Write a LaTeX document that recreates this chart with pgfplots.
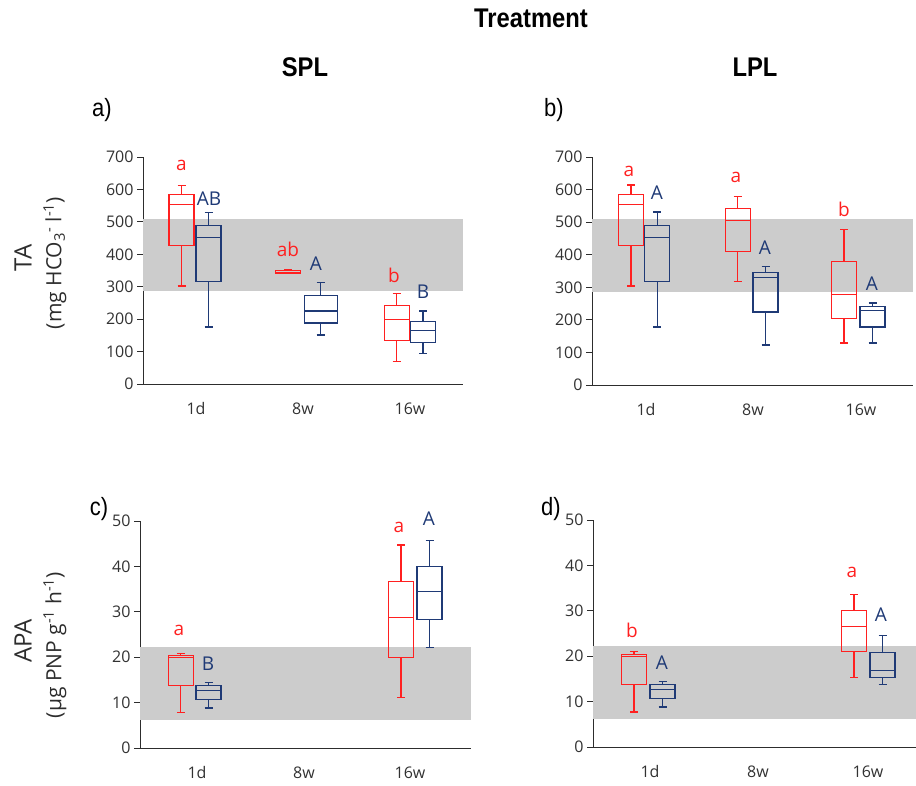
\documentclass[border=0pt]{standalone}
\usepackage{fontspec}
\setmainfont{Open Sans}
\newfontfamily\titlefont[FakeStretch=0.88]{Liberation Sans}
\usepackage{pgfplots}
\pgfplotsset{compat=1.18}
\usepgfplotslibrary{statistics}
\definecolor{redc}{RGB}{255,32,32}
\definecolor{bluec}{RGB}{31,58,118}
\definecolor{bandc}{RGB}{204,204,204}
\definecolor{axisc}{RGB}{45,45,45}
\definecolor{tickc}{RGB}{50,50,50}
\newcommand{\tickfont}{\fontsize{16}{19}\selectfont}
\newcommand{\letfont}{\fontsize{19}{22}\selectfont}
\pgfplotsset{
  panel/.style={
    scale only axis, anchor=south west,
    axis lines=left,
    axis line style={-, draw=axisc, line width=0.9pt},
    tick align=outside, major tick length=6pt,
    tick style={draw=axisc, line width=0.9pt},
    x tick style={draw=none},
    enlargelimits=false, clip=false,
    /pgf/number format/assume math mode=true,
    tick label style={font=\tickfont, text=tickc},
    xticklabel style={anchor=base, yshift=-24pt},
    xticklabels={1d,8w,16w},
    boxplot/draw direction=y,
  },
  rbox/.style={draw=redc, line width=1.2pt, solid},
  bbox/.style={draw=bluec, line width=1.2pt, solid},
}
% boxplot helper: #1 = style, #2 = pos, #3 = width, #4..#8 = lw, lq, med, uq, uw
\newcommand{\bx}[8]{\addplot[#1, boxplot prepared={draw direction=y, draw position=#2, box extend=#3, whisker extend=8,
  lower whisker=#4, lower quartile=#5, median=#6, upper quartile=#7, upper whisker=#8}] coordinates {};}
\begin{document}
\begin{tikzpicture}
\path[use as bounding box] (0pt,0pt) rectangle (916pt,-785pt);

% titles
\node[font=\titlefont\bfseries\fontsize{27}{30}\selectfont] at (531pt,-18pt) {Treatment};
\node[font=\titlefont\bfseries\fontsize{27}{30}\selectfont] at (305pt,-67pt) {SPL};
\node[font=\titlefont\bfseries\fontsize{27}{30}\selectfont] at (755pt,-67pt) {LPL};
\node[font=\titlefont\fontsize{25}{28}\selectfont] at (102pt,-110pt) {a)};
\node[font=\titlefont\fontsize{25}{28}\selectfont] at (554pt,-110pt) {b)};
\node[font=\titlefont\fontsize{25}{28}\selectfont] at (99pt,-509pt) {c)};
\node[font=\titlefont\fontsize{25}{28}\selectfont] at (551pt,-509pt) {d)};

% y labels
\node[rotate=90, text=axisc, font=\fontsize{24}{28}\selectfont] at (23pt,-258pt) {TA};
\node[rotate=90, text=axisc, font=\fontsize{21}{24}\selectfont] at (55pt,-263pt) {(mg HCO\textsubscript{3}\textsuperscript{-} l\textsuperscript{-1})};
\node[rotate=90, text=axisc, font=\fontsize{24}{28}\selectfont] at (23pt,-641pt) {APA};
\node[rotate=90, text=axisc, font=\fontsize{21}{24}\selectfont] at (55pt,-645pt) {(µg PNP g\textsuperscript{-1} h\textsuperscript{-1})};

% ---------- panel a ----------
\begin{axis}[panel, at={(143pt,-384pt)}, width=320pt, height=227pt,
  xmin=143, xmax=463, ymin=0, ymax=700, ytick={0,100,...,700},
  xtick={196,303,410}]
\addplot[draw=none, fill=bandc] coordinates {(143,287) (463,287) (463,510) (143,510)} -- cycle;
\bx{rbox}{181.5}{25}{302}{426}{553}{584}{612}
\bx{bbox}{208.5}{25}{176}{315}{451}{488}{529}
\bx{rbox}{288.3}{25}{340}{341}{345}{349}{352}
\bx{bbox}{320.7}{33}{151}{188}{225}{272}{314}
\bx{rbox}{396.7}{25}{70}{134}{200}{241}{280}
\bx{bbox}{423}{25}{94}{129}{166}{193}{225}
\node[text=redc, font=\letfont] at (axis cs:181.5,674) {a};
\node[text=bluec, font=\letfont] at (axis cs:209,572) {AB};
\node[text=redc, font=\letfont] at (axis cs:288,415) {ab};
\node[text=bluec, font=\letfont] at (axis cs:316,370) {A};
\node[text=redc, font=\letfont] at (axis cs:394,336) {b};
\node[text=bluec, font=\letfont] at (axis cs:423,286) {B};
\end{axis}

% ---------- panel b ----------
\begin{axis}[panel, at={(592pt,-385pt)}, width=321pt, height=228pt,
  xmin=592, xmax=913, ymin=0, ymax=700, ytick={0,100,...,700},
  xtick={646,753,861}]
\addplot[draw=none, fill=bandc] coordinates {(592,287) (913,287) (913,510) (592,510)} -- cycle;
\bx{rbox}{631}{25}{304}{428}{555}{586}{614}
\bx{bbox}{657.3}{25}{178}{318}{453}{490}{531}
\bx{rbox}{737.7}{25}{318}{410}{506}{542}{579}
\bx{bbox}{765.5}{25}{123}{224}{330}{345}{364}
\bx{rbox}{844}{25}{129}{203}{278}{378}{478}
\bx{bbox}{872.5}{25}{129}{178}{229}{241}{252}
\node[text=redc, font=\letfont] at (axis cs:629,656) {a};
\node[text=bluec, font=\letfont] at (axis cs:657,589) {A};
\node[text=redc, font=\letfont] at (axis cs:736,637) {a};
\node[text=bluec, font=\letfont] at (axis cs:765,423) {A};
\node[text=redc, font=\letfont] at (axis cs:844,540) {b};
\node[text=bluec, font=\letfont] at (axis cs:872,310) {A};
\end{axis}

% ---------- panel c ----------
\begin{axis}[panel, at={(140pt,-748pt)}, width=331pt, height=227pt,
  xmin=140, xmax=471, ymin=0, ymax=50, ytick={0,10,...,50},
  xtick={197,304,410}]
\addplot[draw=none, fill=bandc] coordinates {(140,6.2) (471,6.2) (471,22.2) (140,22.2)} -- cycle;
\bx{rbox}{180.8}{25}{7.8}{13.7}{19.9}{20.4}{20.9}
\bx{bbox}{208.5}{25}{8.8}{10.6}{12.6}{13.7}{14.5}
\bx{rbox}{401}{25}{11.2}{19.9}{28.7}{36.7}{44.7}
\bx{bbox}{429.5}{25}{22.1}{28.3}{34.5}{39.9}{45.7}
\node[text=redc, font=\letfont] at (axis cs:179,26) {a};
\node[text=bluec, font=\letfont] at (axis cs:208,18.5) {B};
\node[text=redc, font=\letfont] at (axis cs:399,48.5) {a};
\node[text=bluec, font=\letfont] at (axis cs:429,50.5) {A};
\end{axis}

% ---------- panel d ----------
\begin{axis}[panel, at={(593pt,-747pt)}, width=323pt, height=227pt,
  xmin=593, xmax=916, ymin=0, ymax=50, ytick={0,10,...,50},
  xtick={650,758,868}]
\addplot[draw=none, fill=bandc] coordinates {(593,6.1) (916,6.1) (916,22.2) (593,22.2)} -- cycle;
\bx{rbox}{634}{25}{7.7}{13.8}{19.9}{20.3}{21.0}
\bx{bbox}{662.5}{25}{8.8}{10.6}{12.6}{13.8}{14.5}
\bx{rbox}{854}{25}{15.3}{21.1}{26.6}{30.1}{33.6}
\bx{bbox}{882.5}{25}{13.8}{15.3}{16.8}{20.8}{24.5}
\node[text=redc, font=\letfont] at (axis cs:632,25.6) {b};
\node[text=bluec, font=\letfont] at (axis cs:662,18.6) {A};
\node[text=redc, font=\letfont] at (axis cs:852,38.4) {a};
\node[text=bluec, font=\letfont] at (axis cs:881,29.2) {A};
\end{axis}
\end{tikzpicture}
\end{document}
